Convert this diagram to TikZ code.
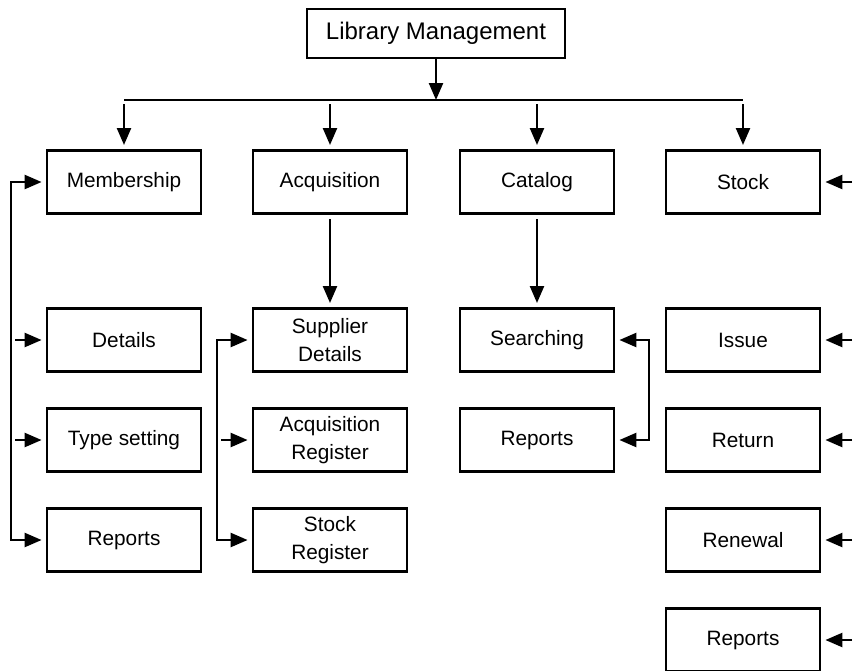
\documentclass[tikz,border=0pt]{standalone}
\usepackage{fontspec}
\setmainfont{Liberation Sans}
\usetikzlibrary{positioning}
\usetikzlibrary{arrows.meta}

\begin{document}
\begin{tikzpicture}[>={Triangle[length=8.5pt,width=7pt]},x=0.5pt,y=-0.5pt,font=\fontsize{10.4}{14}\selectfont,
    box/.style={draw,line width=1.4pt,minimum width=77pt,minimum height=31.6pt,align=center,inner sep=2pt},
    link/.style={line width=1.2pt,shorten >=2pt,shorten <=2pt}]
    \useasboundingbox (0,0) rectangle (856,670);
    \node (LM) [box,minimum width=129pt,minimum height=24.5pt,font=\fontsize{12}{14}\selectfont] at (436,33.5) {Library Management};
    \node (Mem) [box] at (124,182) {Membership};
    \node (Acq) [box] at (330,182) {Acquisition};
    \node (Cat) [box] at (537,182) {Catalog};
    \node (Stk) [box] at (743,182) {Stock};
    \node (MemDet)  [box,below=46pt of Mem]  {Details};% first row under the heads
    \node (MemType) [box,below=17pt of MemDet]  {Type setting};
    \node (MemRep)  [box,below=17pt of MemType] {Reports};
    \node (AcqSup)  [box,below=46pt of Acq]  {Supplier\\Details};
    \node (AcqReg)  [box,below=17pt of AcqSup]  {Acquisition\\Register};
    \node (AcqStk)  [box,below=17pt of AcqReg]  {Stock\\Register};
    \node (CatSrch) [box,below=46pt of Cat]  {Searching};
    \node (CatRep)  [box,below=17pt of CatSrch] {Reports};
    \node (StkIss)  [box,below=46pt of Stk]  {Issue};
    \node (StkRet)  [box,below=17pt of StkIss]  {Return};
    \node (StkRen)  [box,below=17pt of StkRet]  {Renewal};
    \node (StkRep)  [box,below=17pt of StkRen]  {Reports};
    \coordinate (bus) at (436,100);
    \coordinate (mb) at (11,0);
    \coordinate (ab) at (217,0);
    \coordinate (cb) at (649,0);
    \coordinate (rim) at (856,0);
    \draw [line width=1.2pt,->] (LM) -- (LM.south |- bus);
    \draw [line width=1.2pt] (Mem.north |- bus) -- (Stk.north |- bus);
    \draw [link,->] (Mem.north |- bus) -- (Mem);
    \draw [link,->] (Acq.north |- bus) -- (Acq);
    \draw [link,->] (Cat.north |- bus) -- (Cat);
    \draw [link,->] (Stk.north |- bus) -- (Stk);
    \draw [link,->] (Acq) -- (AcqSup);
    \draw [link,->] (Cat) -- (CatSrch);
    \draw [link,<->] (Mem.west) -- (Mem.west -| mb) |- (MemRep.west);
    \draw [link,->] (MemDet.west -| mb) -- (MemDet);
    \draw [link,->] (MemType.west -| mb) -- (MemType);
    \draw [link,<->] (AcqSup.west) -- (AcqSup.west -| ab) |- (AcqStk.west);
    \draw [link,->] (AcqReg.west -| ab) -- (AcqReg);
    \draw [link,<->] (CatSrch.east) -- (CatSrch.east -| cb) |- (CatRep.east);
    \draw [link,->] (Stk.east -| rim) -- (Stk);
    \draw [link,->] (StkIss.east -| rim) -- (StkIss);
    \draw [link,->] (StkRet.east -| rim) -- (StkRet);
    \draw [link,->] (StkRen.east -| rim) -- (StkRen);
    \draw [link,->] (StkRep.east -| rim) -- (StkRep);
\end{tikzpicture}
\end{document}
